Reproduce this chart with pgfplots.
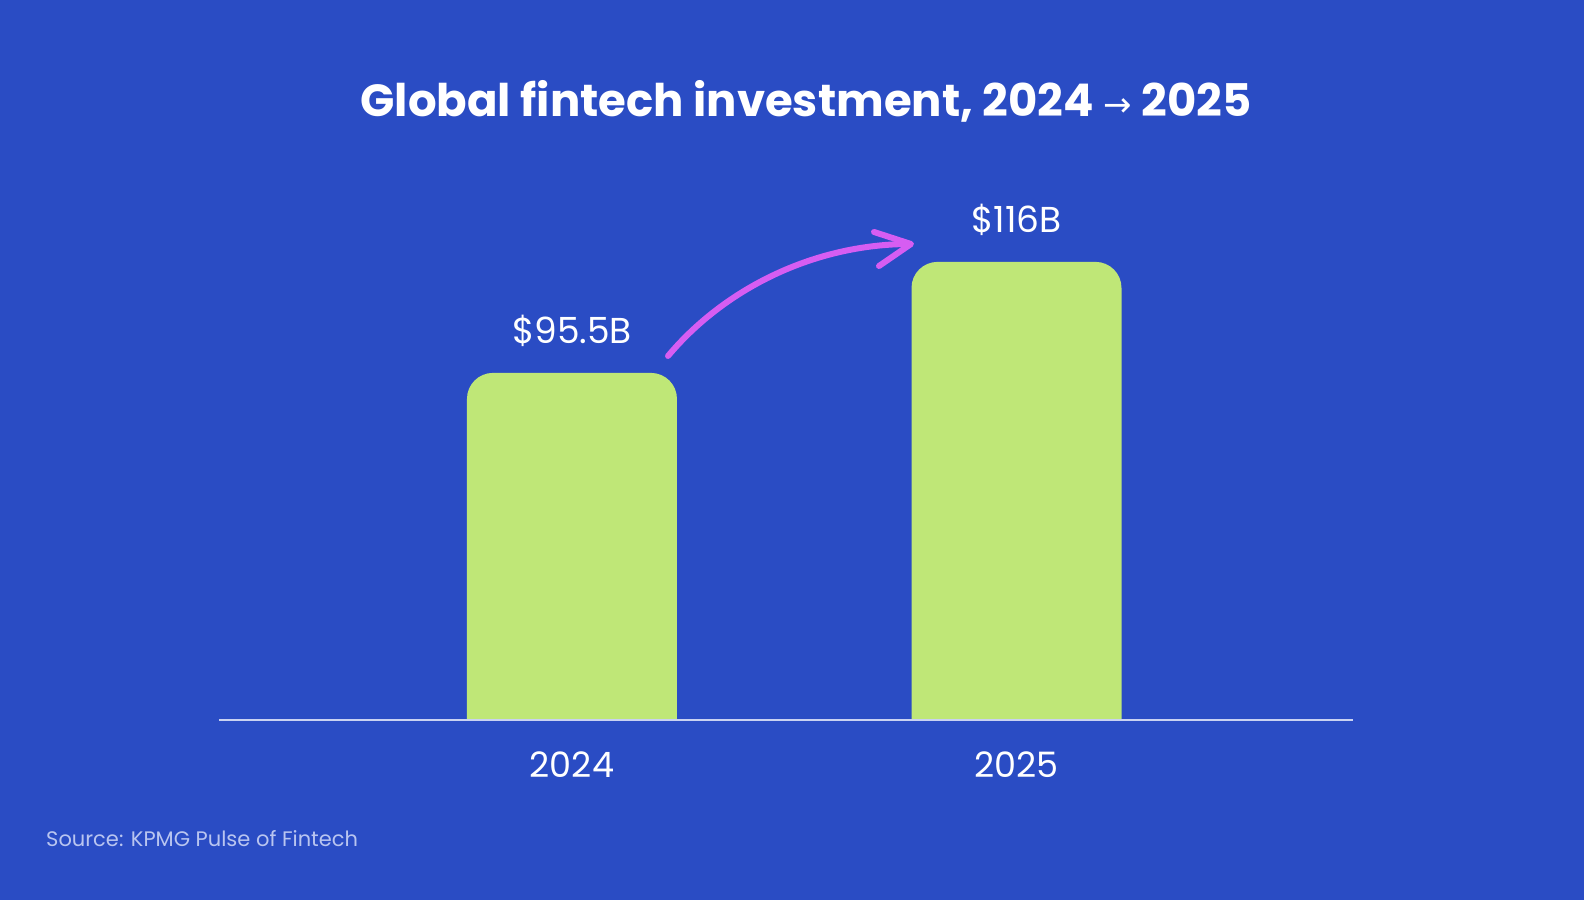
\documentclass[border=0pt]{standalone}
\usepackage{pgfplots}
\pgfplotsset{compat=1.18}
\usepackage{fontspec}
\setmainfont{Poppins}
\newfontfamily\dejavu{DejaVu Sans}
\definecolor{bgblue}{HTML}{2A4CC4}
\definecolor{bargreen}{HTML}{BFE777}
\definecolor{axisline}{HTML}{C9D2F2}
\definecolor{arrowpink}{HTML}{D65DF2}
\definecolor{srctext}{HTML}{B9C5F0}
\begin{document}
\begin{tikzpicture}[x=1pt,y=1pt]
% background, 1 px = 1 pt
\fill[bgblue] (0,0) rectangle (1584,900);
\useasboundingbox (0,0) rectangle (1584,900);
\begin{axis}[
    at={(219pt,145.34pt)}, anchor=south west,
    scale only axis, width=1134pt, height=614.6pt,
    xmin=-0.794, xmax=1.757,
    ymin=25, ymax=138.5,
    axis on top,
    axis x line=bottom, axis y line=none,
    axis line style={draw=none},
    xtick={0,1}, xticklabels={2024,2025},
    ytick=\empty,
    major tick length=0pt,
    xticklabel style={font=\fontsize{35}{40}\selectfont, text=white, anchor=base, yshift=-23.3pt},
    ybar, bar width=0.4724, bar shift=0pt,
    nodes near coords, point meta=explicit symbolic,
    every node near coord/.append style={font=\fontsize{36}{40}\selectfont, text=white, anchor=base, yshift=29pt},
]
\addplot[fill=bargreen, draw=none, rounded corners=26pt]
    coordinates {(0,95.5) [\$95.5B] (1,116) [\$116B]};
% hide the lower rounded corners below the baseline, then draw the baseline
\fill[bgblue] (axis cs:-0.794,25) rectangle (axis cs:1.757,31.4);
\draw[axisline, line width=1.5pt] (axis cs:-0.794,31.4) -- (axis cs:1.757,31.4);
\end{axis}
% title and source
\node[anchor=base, text=white, font=\bfseries\fontsize{45}{50}\selectfont] at (806,783)
    {Global fintech investment, 2024 {\dejavu\mdseries\fontsize{34}{34}\selectfont →} 2025};
\node[anchor=base west, text=srctext, inner sep=0pt, font=\fontsize{21}{24}\selectfont] at (46,54)
    {Source: KPMG Pulse of Fintech};
% curved arrow between bars
\draw[arrowpink, line width=6pt, line cap=round, line join=round]
    (668,544) .. controls (725,612) and (815,656) .. (910,656);
\draw[arrowpink, line width=6pt, line cap=round, line join=round]
    (874,668) -- (911,656) -- (879,634);
\end{tikzpicture}
\end{document}
